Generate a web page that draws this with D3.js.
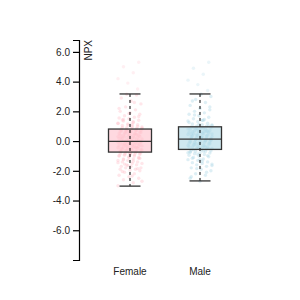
<!DOCTYPE html>
<html>
<head>
<meta charset="utf-8">
<script src="https://cdn.jsdelivr.net/npm/d3@7"></script>
<style>
body { margin: 0; background: #fff; }
svg { font-family: "Liberation Sans", Arial, sans-serif; }
</style>
</head>
<body>
<svg width="300" height="300"></svg>
<script>
// groups and box statistics
var groups = ["Female", "Male"];
var colors = ["pink", "lightblue"];
var q1 = [-0.74, -0.56];
var median = [-0.02, 0.13];
var q3 = [0.81, 0.96];
var whiskerLow = [-3.03, -2.68];
var whiskerHigh = [3.17, 3.17];
var yTicks = [-6, -4, -2, 0, 2, 4, 6];

// sample values (estimated from the point cloud)
var femaleValues = [-3.0,-2.8,-2.6,-2.5,-2.4,-2.3,-2.2,-2.1,-2.0,-1.95,
  -1.9,-1.9,-1.8,-1.8,-1.7,-1.7,-1.6,-1.6,-1.5,-1.5,-1.4,-1.4,-1.3,-1.3,-1.2,-1.2,-1.1,-1.1,-1.0,-1.0,
  -0.95,-0.9,-0.9,-0.85,-0.8,-0.8,-0.75,-0.75,-0.7,-0.7,-0.65,-0.6,-0.6,-0.55,-0.5,-0.5,-0.45,-0.4,-0.4,-0.35,
  -0.3,-0.3,-0.25,-0.2,-0.2,-0.15,-0.1,-0.1,-0.05,-0.02,0.0,0.05,0.1,0.1,0.15,0.2,0.2,0.25,0.3,0.3,
  0.35,0.4,0.4,0.45,0.5,0.5,0.55,0.6,0.6,0.65,0.7,0.7,0.75,0.8,0.8,0.85,0.9,0.95,1.0,1.05,
  1.1,1.15,1.2,1.3,1.35,1.4,1.5,1.55,1.6,1.7,1.8,1.9,2.0,2.1,2.3,2.5,2.7,2.9,3.1,3.15,
  -2.7,-2.35,-2.05,-1.85,-1.65,-1.45,-1.35,-1.25,-1.15,-1.05,-0.98,-0.92,-0.88,-0.82,-0.78,-0.72,-0.68,-0.62,-0.58,-0.52,
  -0.48,-0.42,-0.38,-0.32,-0.28,-0.22,-0.18,-0.12,-0.08,-0.03,0.02,0.08,0.12,0.18,0.22,0.28,0.32,0.38,0.42,0.48,
  0.52,0.58,0.62,0.68,0.72,0.78,0.82,0.88,0.92,0.98,1.08,1.18,1.25,1.45,1.65,1.85,2.2,2.6,
  -1.55,-1.15,-0.85,-0.66,-0.44,-0.26,-0.06,0.06,0.26,0.44,0.66,0.86,1.12,1.42,
  3.5,3.9,4.2,4.6,5.0,5.3];
var maleValues = [-2.7,-2.5,-2.3,-2.2,-2.0,-1.9,-1.8,-1.7,-1.6,-1.55,
  -1.5,-1.45,-1.4,-1.3,-1.25,-1.2,-1.1,-1.05,-1.0,-0.95,-0.9,-0.85,-0.8,-0.8,-0.75,-0.7,-0.7,-0.65,-0.6,-0.6,
  -0.55,-0.5,-0.5,-0.45,-0.4,-0.4,-0.35,-0.3,-0.3,-0.25,-0.2,-0.2,-0.15,-0.1,-0.1,-0.05,0.0,0.0,0.05,0.1,
  0.13,0.15,0.2,0.2,0.25,0.3,0.3,0.35,0.4,0.4,0.45,0.5,0.5,0.55,0.6,0.6,0.65,0.7,0.7,0.75,
  0.8,0.8,0.85,0.9,0.9,0.95,1.0,1.0,1.05,1.1,1.15,1.2,1.3,1.35,1.4,1.5,1.6,1.7,1.8,1.9,
  2.0,2.1,2.2,2.4,2.6,2.8,3.0,3.15,
  -2.4,-2.1,-1.85,-1.65,-1.35,-1.15,-0.98,-0.88,-0.78,-0.68,-0.58,-0.52,-0.46,-0.38,-0.32,-0.26,-0.18,-0.12,-0.06,0.02,
  0.08,0.16,0.22,0.28,0.34,0.42,0.48,0.54,0.62,0.68,0.74,0.82,0.88,0.94,1.02,1.12,1.25,1.45,1.75,2.3,
  -1.25,-0.72,-0.42,-0.16,0.06,0.26,0.46,0.66,0.86,1.08,1.38,2.7,
  3.4,3.8,4.1,4.5,4.9,5.3];
var values = [femaleValues, maleValues];

var margin = {top: 40, left: 79},
    height = 220;

var svg = d3.select("svg");
var g = svg.append("g").attr("transform", "translate(" + margin.left + "," + margin.top + ")");

var y = d3.scaleLinear().domain([-8, 6.8]).range([height, 0]);
var x = d3.scaleBand().domain(groups).range([16, 156]);

var boxWidth = 43, capWidth = 21;

g.append("g")
    .attr("class", "y axis")
    .call(d3.axisLeft(y).tickValues(yTicks).tickFormat(function(d) { return d.toFixed(1); }))
    .call(function(a) {
      a.select(".domain").attr("stroke", "#000").attr("stroke-width", 1.2);
      a.selectAll(".tick line").attr("stroke", "#000").attr("stroke-width", 1.2);
      a.selectAll("text").attr("fill", "#222").attr("font-size", "10px").attr("font-family", "Liberation Sans, Arial, sans-serif");
    })
  .append("text")
    .attr("transform", "rotate(-90)")
    .attr("y", 6)
    .attr("dy", ".71em")
    .attr("fill", "#222")
    .attr("font-size", "10px")
    .style("text-anchor", "end")
    .text("NPX");

g.append("g")
    .attr("transform", "translate(0," + height + ")")
    .call(d3.axisBottom(x).tickSize(0).tickPadding(8))
    .call(function(a) {
      a.select(".domain").remove();
      a.selectAll("text").attr("fill", "#222").attr("font-size", "10px").attr("font-family", "Liberation Sans, Arial, sans-serif");
    });

groups.forEach(function(name, k) {
  var cx = x(name) + x.bandwidth() / 2;
  var box = g.append("g");

  box.append("rect")
      .attr("x", cx - boxWidth / 2)
      .attr("width", boxWidth)
      .attr("y", y(q3[k]))
      .attr("height", y(q1[k]) - y(q3[k]))
      .attr("fill", colors[k])
      .attr("fill-opacity", 0.6);

  // jittered points
  box.selectAll("circle")
      .data(values[k])
      .enter()
      .append("circle")
      .attr("cx", function(d, i) { return cx + (((i * 37 + k * 11) % 23) / 22 - 0.5) * 24; })
      .attr("cy", function(d) { return y(d); })
      .attr("r", 1.7)
      .attr("fill", colors[k])
      .attr("fill-opacity", function(d) { return d > whiskerHigh[k] ? 0.25 : 0.4; });

  box.append("line")
      .attr("x1", cx).attr("x2", cx)
      .attr("y1", y(whiskerHigh[k])).attr("y2", y(whiskerLow[k]))
      .attr("stroke", "#000")
      .attr("stroke-dasharray", "3,3");

  [whiskerLow[k], whiskerHigh[k]].forEach(function(v) {
    box.append("line")
        .attr("x1", cx - capWidth / 2).attr("x2", cx + capWidth / 2)
        .attr("y1", y(v)).attr("y2", y(v))
        .attr("stroke", "#333")
        .attr("stroke-width", 1.3);
  });

  box.append("rect")
      .attr("x", cx - boxWidth / 2)
      .attr("width", boxWidth)
      .attr("y", y(q3[k]))
      .attr("height", y(q1[k]) - y(q3[k]))
      .attr("fill", "none")
      .attr("stroke", "#333")
      .attr("stroke-width", 1.3);

  box.append("line")
      .attr("x1", cx - boxWidth / 2).attr("x2", cx + boxWidth / 2)
      .attr("y1", y(median[k])).attr("y2", y(median[k]))
      .attr("stroke", "#333")
      .attr("stroke-width", 1.3);
});
</script>
</body>
</html>
